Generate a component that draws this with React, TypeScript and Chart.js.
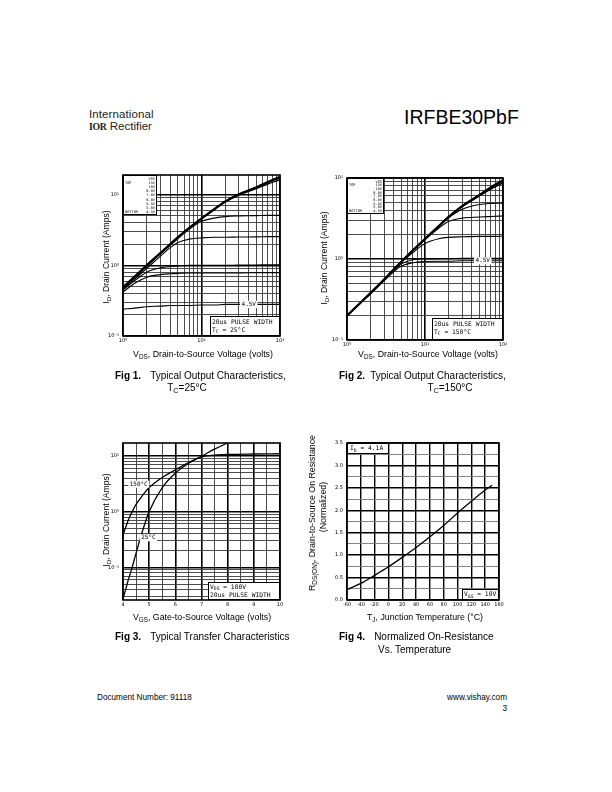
import React, { useEffect, useRef } from "react";
import { Chart, registerables } from "chart.js";
Chart.register(...registerables);

// ---------- Fig 1 : output characteristics, Tc = 25C ----------
const F1_VDS = [1, 1.5, 2, 3, 4, 5, 7, 10, 15, 20, 30, 50, 70, 100];
const F1_ID_15V = [0.49, 0.74, 1.0, 1.5, 2.0, 2.5, 3.4, 4.6, 6.4, 8.0, 10.2, 12.8, 15.2, 18.0];
const F1_ID_10V = [0.49, 0.74, 1.0, 1.5, 2.0, 2.5, 3.4, 4.6, 6.4, 8.0, 10.1, 12.6, 14.9, 17.4];
const F1_ID_8V = [0.48, 0.73, 0.99, 1.49, 1.98, 2.48, 3.37, 4.55, 6.3, 7.9, 9.9, 12.2, 14.2, 16.3];
const F1_ID_7V = [0.47, 0.71, 0.96, 1.45, 1.92, 2.38, 3.25, 4.2, 4.7, 4.9, 5.0, 5.05, 5.1, 5.1];
const F1_ID_6V = [0.46, 0.68, 0.9, 1.35, 1.78, 2.1, 2.35, 2.45, 2.5, 2.5, 2.52, 2.53, 2.55, 2.55];
const F1_ID_5V5 = [0.45, 0.64, 0.8, 0.92, 0.96, 0.98, 1.0, 1.0, 1.0, 1.0, 1.01, 1.01, 1.02, 1.02];
const F1_ID_5V = [0.42, 0.58, 0.68, 0.74, 0.76, 0.77, 0.78, 0.78, 0.78, 0.78, 0.78, 0.79, 0.79, 0.79];
const F1_ID_4V5 = [0.24, 0.25, 0.26, 0.265, 0.27, 0.27, 0.27, 0.275, 0.275, 0.28, 0.28, 0.28, 0.28, 0.28];

// ---------- Fig 2 : output characteristics, Tc = 150C ----------
const F2_VDS = [1, 1.5, 2, 3, 4, 5, 7, 10, 15, 20, 30, 50, 70, 100];
const F2_ID_15V = [0.2, 0.29, 0.38, 0.56, 0.75, 0.93, 1.28, 1.77, 2.55, 3.3, 4.5, 6.2, 7.7, 9.4];
const F2_ID_10V = [0.2, 0.29, 0.38, 0.56, 0.75, 0.93, 1.28, 1.77, 2.55, 3.3, 4.5, 6.15, 7.6, 9.2];
const F2_ID_8V = [0.2, 0.29, 0.38, 0.56, 0.75, 0.93, 1.28, 1.77, 2.54, 3.28, 4.45, 6.0, 7.3, 8.7];
const F2_ID_7V = [0.2, 0.29, 0.38, 0.56, 0.75, 0.93, 1.28, 1.76, 2.5, 3.2, 4.1, 4.7, 4.85, 4.9];
const F2_ID_6V = [0.2, 0.29, 0.38, 0.56, 0.75, 0.93, 1.27, 1.74, 2.4, 2.9, 3.2, 3.3, 3.35, 3.4];
const F2_ID_5V5 = [0.2, 0.29, 0.38, 0.56, 0.74, 0.91, 1.2, 1.55, 1.78, 1.85, 1.88, 1.9, 1.9, 1.92];
const F2_ID_5V = [0.2, 0.29, 0.38, 0.55, 0.72, 0.87, 0.98, 1.0, 1.01, 1.01, 1.02, 1.02, 1.02, 1.02];
const F2_ID_4V5 = [0.2, 0.29, 0.37, 0.54, 0.7, 0.82, 0.9, 0.93, 0.94, 0.94, 0.95, 0.95, 0.95, 0.95];

// ---------- Fig 3 : transfer characteristics ----------
const F3_VGS = [4.0, 4.1, 4.2, 4.35, 4.5, 4.65, 4.8, 5.0, 5.5, 6.0, 6.5, 7.0, 7.5, 8.0, 9.0, 10.0];
const F3_ID_25C = [0.027, 0.04, 0.059, 0.1, 0.18, 0.32, 0.54, 1.0, 2.7, 4.9, 7.3, 9.8, 13.2, 17, null, null];
const F3_ID_150C = [0.38, 0.52, 0.7, 1.0, 1.35, 1.7, 2.1, 2.7, 4.1, 5.6, 7.6, 9.6, 10.3, 10.6, 10.8, 10.9];

// ---------- Fig 4 : normalized on-resistance vs temperature ----------
const F4_TJ = [-60, -40, -20, 0, 20, 40, 60, 80, 100, 120, 140, 150];
const F4_RDS = [0.23, 0.37, 0.55, 0.74, 0.95, 1.17, 1.41, 1.66, 1.94, 2.2, 2.45, 2.56];

// ---------- tick values / labels ----------
const DECADES = [0.1, 1, 10, 100];
const DECADE_LABELS = ["10⁻¹", "10⁰", "10¹", "10²"];
const LOG_X_TICKS = [1, 2, 3, 4, 5, 6, 7, 8, 9, 10, 20, 30, 40, 50, 60, 70, 80, 90, 100];
const LOG_Y_TICKS = [0.1, 0.2, 0.3, 0.4, 0.5, 0.6, 0.7, 0.8, 0.9, 1, 2, 3, 4, 5, 6, 7, 8, 9, 10];
const F3_Y_TICKS = [0.03, 0.04, 0.05, 0.06, 0.07, 0.08, 0.09, 0.1, 0.2, 0.3, 0.4, 0.5, 0.6, 0.7, 0.8, 0.9, 1, 2, 3, 4, 5, 6, 7, 8, 9, 10];
const LEGEND_VGS = ["VGS", "15V", "10V", "8.0V", "7.0V", "6.0V", "5.5V", "5.0V", "4.5V"];

const decIndex = (v: number) => DECADES.findIndex((d) => Math.abs(v / d - 1) < 1e-6);
const TICK_FONT = { family: "'DejaVu Sans', sans-serif", size: 5 };
const MONO = "'DejaVu Sans Mono', monospace";

function logAxis(min: number, max: number, vals: number[], w: number, isX: boolean) {
  return {
    type: "logarithmic",
    min,
    max,
    afterBuildTicks: (s: any) => {
      s.ticks = vals.map((v) => ({ value: v }));
    },
    afterFit: (s: any) => {
      if (isX) s.height = w;
      else s.width = w;
    },
    ticks: {
      autoSkip: false,
      maxRotation: 0,
      minRotation: 0,
      padding: isX ? 2 : 4,
      color: "#000",
      font: TICK_FONT,
      callback: (v: any) => {
        const i = decIndex(Number(v));
        return i >= 0 ? DECADE_LABELS[i] : "";
      },
    },
    grid: {
      drawTicks: false,
      color: (c: any) => (c.tick && decIndex(c.tick.value) >= 0 ? "#000" : "#3a3a3a"),
      lineWidth: (c: any) => (c.tick && decIndex(c.tick.value) >= 0 ? 1.6 : 0.9),
    },
    border: { display: false },
  };
}

function linAxis(min: number, max: number, step: number, labelStep: number, w: number, isX: boolean, fmt: (v: number) => string, majorW: number, minorW: number, minorColor: string) {
  const isMajor = (v: number) => Math.abs(v / labelStep - Math.round(v / labelStep)) < 1e-6;
  return {
    type: "linear",
    min,
    max,
    afterFit: (s: any) => {
      if (isX) s.height = w;
      else s.width = w;
    },
    ticks: {
      stepSize: step,
      autoSkip: false,
      maxRotation: 0,
      minRotation: 0,
      padding: isX ? 2 : 4,
      color: "#000",
      font: TICK_FONT,
      callback: (v: any) => (isMajor(Number(v)) ? fmt(Number(v)) : ""),
    },
    grid: {
      drawTicks: false,
      color: (c: any) => (c.tick && isMajor(c.tick.value) ? "#000" : minorColor),
      lineWidth: (c: any) => (c.tick && isMajor(c.tick.value) ? majorW : minorW),
    },
    border: { display: false },
  };
}

function ds(xs: number[], ys: (number | null)[], width: number) {
  return {
    data: xs.map((x, i) => ({ x, y: ys[i] })),
    borderColor: "#000",
    borderWidth: width,
    pointRadius: 0,
    cubicInterpolationMode: "monotone",
    spanGaps: false,
    fill: false,
  };
}

function box(ctx: CanvasRenderingContext2D, x: number, y: number, w: number, h: number) {
  ctx.save();
  ctx.fillStyle = "#fff";
  ctx.fillRect(x, y, w, h);
  ctx.strokeStyle = "#000";
  ctx.lineWidth = 1;
  ctx.strokeRect(x + 0.5, y + 0.5, w - 1, h - 1);
  ctx.restore();
}

// draws "main" + subscript + rest in monospace
function subText(ctx: CanvasRenderingContext2D, x: number, y: number, main: string, sub: string, rest: string, size: number) {
  ctx.font = `${size}px ${MONO}`;
  ctx.fillText(main, x, y);
  let cx = x + ctx.measureText(main).width;
  ctx.font = `${size * 0.75}px ${MONO}`;
  ctx.fillText(sub, cx, y + size * 0.3);
  cx += ctx.measureText(sub).width;
  ctx.font = `${size}px ${MONO}`;
  ctx.fillText(rest, cx, y);
}

function legendBox(ctx: CanvasRenderingContext2D, ca: any, w: number, h: number) {
  box(ctx, ca.left, ca.top, w, h);
  const rowH = (h - 3) / LEGEND_VGS.length;
  ctx.fillStyle = "#000";
  ctx.font = `3.6px ${MONO}`;
  ctx.textBaseline = "middle";
  ctx.textAlign = "right";
  LEGEND_VGS.forEach((t, i) => ctx.fillText(t, ca.left + w - 2, ca.top + 2 + rowH * (i + 0.5)));
  ctx.textAlign = "left";
  ctx.fillText("TOP", ca.left + 2, ca.top + 2 + rowH * 1.5);
  ctx.fillText("BOTTOM", ca.left + 2, ca.top + 2 + rowH * 8.5);
}

function dataLabel(chart: any, xv: number, yv: number, text: string, size: number) {
  const ctx = chart.ctx as CanvasRenderingContext2D;
  const px = chart.scales.x.getPixelForValue(xv);
  const py = chart.scales.y.getPixelForValue(yv);
  ctx.save();
  ctx.font = `${size}px ${MONO}`;
  const w = ctx.measureText(text).width + 3;
  ctx.fillStyle = "#fff";
  ctx.fillRect(px - w / 2, py - size * 0.6, w, size * 1.2);
  ctx.fillStyle = "#000";
  ctx.textAlign = "center";
  ctx.textBaseline = "middle";
  ctx.fillText(text, px, py);
  ctx.restore();
}

function frame(chart: any) {
  const ctx = chart.ctx as CanvasRenderingContext2D;
  const ca = chart.chartArea;
  ctx.save();
  ctx.strokeStyle = "#000";
  ctx.lineWidth = 1.6;
  ctx.strokeRect(ca.left, ca.top, ca.right - ca.left, ca.bottom - ca.top);
  ctx.restore();
}

function pulseBox(chart: any, w: number, h: number, tempText: string) {
  const ctx = chart.ctx as CanvasRenderingContext2D;
  const ca = chart.chartArea;
  box(ctx, ca.right - w, ca.bottom - h, w, h);
  ctx.save();
  ctx.fillStyle = "#000";
  ctx.textBaseline = "middle";
  ctx.textAlign = "left";
  ctx.font = `6.3px ${MONO}`;
  ctx.fillText("20us PULSE WIDTH", ca.right - w + 2, ca.bottom - h + 6);
  subText(ctx, ca.right - w + 2, ca.bottom - h + 14, "T", "C", " = " + tempText, 6.3);
  ctx.restore();
}

function baseOptions(yW: number, xH: number, top: number, right: number, xScale: any, yScale: any) {
  return {
    responsive: false,
    maintainAspectRatio: false,
    animation: false,
    devicePixelRatio: 1,
    layout: { padding: { left: 0, top, right, bottom: 0 } },
    plugins: { legend: { display: false }, tooltip: { enabled: false }, title: { display: false } },
    scales: {
      x: { ...xScale, afterFit: (s: any) => { s.height = xH; } },
      y: { ...yScale, afterFit: (s: any) => { s.width = yW; } },
    },
  };
}

const fig1Config = () => ({
  type: "line",
  data: {
    datasets: [
      ds(F1_VDS, F1_ID_15V, 2.0),
      ds(F1_VDS, F1_ID_10V, 1.8),
      ds(F1_VDS, F1_ID_8V, 1.5),
      ds(F1_VDS, F1_ID_7V, 1.1),
      ds(F1_VDS, F1_ID_6V, 1.1),
      ds(F1_VDS, F1_ID_5V5, 1.1),
      ds(F1_VDS, F1_ID_5V, 1.1),
      ds(F1_VDS, F1_ID_4V5, 1.1),
    ],
  },
  options: baseOptions(27, 13, 8, 10, logAxis(1, 100, LOG_X_TICKS, 13, true), logAxis(0.1, 19, LOG_Y_TICKS, 27, false)),
  plugins: [
    {
      id: "notes1",
      afterDraw: (chart: any) => {
        const ctx = chart.ctx;
        frame(chart);
        legendBox(ctx, chart.chartArea, 34, 40);
        pulseBox(chart, 70, 20, "25°C");
        dataLabel(chart, 40, 0.28, "4.5V", 6);
      },
    },
  ],
});

const fig2Config = () => ({
  type: "line",
  data: {
    datasets: [
      ds(F2_VDS, F2_ID_15V, 2.0),
      ds(F2_VDS, F2_ID_10V, 1.8),
      ds(F2_VDS, F2_ID_8V, 1.5),
      ds(F2_VDS, F2_ID_7V, 1.1),
      ds(F2_VDS, F2_ID_6V, 1.1),
      ds(F2_VDS, F2_ID_5V5, 1.1),
      ds(F2_VDS, F2_ID_5V, 1.1),
      ds(F2_VDS, F2_ID_4V5, 1.1),
    ],
  },
  options: baseOptions(27, 12, 8, 10, logAxis(1, 100, LOG_X_TICKS, 12, true), logAxis(0.1, 10, LOG_Y_TICKS, 27, false)),
  plugins: [
    {
      id: "notes2",
      afterDraw: (chart: any) => {
        const ctx = chart.ctx;
        frame(chart);
        legendBox(ctx, chart.chartArea, 37, 36);
        pulseBox(chart, 71, 22, "150°C");
        dataLabel(chart, 55, 0.95, "4.5V", 6);
      },
    },
  ],
});

const fig3Config = () => ({
  type: "line",
  data: {
    datasets: [ds(F3_VGS, F3_ID_25C, 1.3), ds(F3_VGS, F3_ID_150C, 1.3)],
  },
  options: baseOptions(
    27,
    13,
    8,
    10,
    linAxis(4, 10, 0.5, 1, 13, true, (v) => String(v), 1.6, 0.9, "#3a3a3a"),
    logAxis(0.026, 17, F3_Y_TICKS, 27, false)
  ),
  plugins: [
    {
      id: "notes3",
      afterDraw: (chart: any) => {
        const ctx = chart.ctx as CanvasRenderingContext2D;
        const ca = chart.chartArea;
        frame(chart);
        dataLabel(chart, 4.6, 3.1, "150°C", 6);
        dataLabel(chart, 4.97, 0.34, "25°C", 6);
        const w = 72, h = 18;
        box(ctx, ca.right - w, ca.bottom - h, w, h);
        ctx.save();
        ctx.fillStyle = "#000";
        ctx.textBaseline = "middle";
        ctx.textAlign = "left";
        subText(ctx, ca.right - w + 2, ca.bottom - h + 5, "V", "DS", " = 100V", 6.3);
        ctx.font = `6.3px ${MONO}`;
        ctx.fillText("20us PULSE WIDTH", ca.right - w + 2, ca.bottom - h + 13);
        ctx.restore();
      },
    },
  ],
});

const fig4Config = () => ({
  type: "line",
  data: { datasets: [ds(F4_TJ, F4_RDS, 1.3)] },
  options: baseOptions(
    27,
    13,
    8,
    10,
    linAxis(-60, 160, 20, 20, 13, true, (v) => String(v), 1.4, 1.4, "#000"),
    linAxis(0, 3.5, 0.25, 0.5, 27, false, (v) => v.toFixed(1), 1.4, 0.9, "#777")
  ),
  plugins: [
    {
      id: "notes4",
      afterDraw: (chart: any) => {
        const ctx = chart.ctx as CanvasRenderingContext2D;
        const ca = chart.chartArea;
        frame(chart);
        box(ctx, ca.left, ca.top, 42, 11);
        ctx.save();
        ctx.fillStyle = "#000";
        ctx.textBaseline = "middle";
        ctx.textAlign = "left";
        subText(ctx, ca.left + 3, ca.top + 5.5, "I", "D", " = 4.1A", 6.3);
        box(ctx, ca.right - 37, ca.bottom - 11, 37, 11);
        subText(ctx, ca.right - 35, ca.bottom - 5.5, "V", "GS", " = 10V", 6.3);
        ctx.restore();
      },
    },
  ],
});

function ChartCanvas({ left, top, width, height, make }: { left: number; top: number; width: number; height: number; make: () => any }) {
  const ref = useRef<HTMLCanvasElement>(null);
  useEffect(() => {
    const chart = new Chart(ref.current as HTMLCanvasElement, make());
    return () => chart.destroy();
  }, []);
  return <canvas ref={ref} width={width} height={height} style={{ position: "absolute", left, top, width, height }} />;
}

const sub = (t: string) => (
  <span style={{ fontSize: "0.72em", position: "relative", top: "0.3em" }}>{t}</span>
);

function Txt({ x, y, size, children, align = "left", bold = false, rotate = false, style = {} }: any) {
  const tx = align === "center" ? "-50%" : align === "right" ? "-100%" : "0";
  return (
    <div
      style={{
        position: "absolute",
        left: x,
        top: y,
        fontSize: size,
        lineHeight: 1,
        whiteSpace: "nowrap",
        fontWeight: bold ? "bold" : "normal",
        transform: rotate ? "translate(-50%,-50%) rotate(-90deg)" : `translate(${tx},-50%)`,
        ...style,
      }}
    >
      {children}
    </div>
  );
}

export default function App() {
  return (
    <div
      style={{
        position: "absolute",
        left: 0,
        top: 0,
        width: 612,
        height: 792,
        background: "#fff",
        fontFamily: "'Liberation Sans', Arial, sans-serif",
        color: "#000",
        overflow: "hidden",
      }}
    >
      {/* header */}
      <Txt x={89} y={115} size={11.5} style={{ color: "#222", letterSpacing: "0.1px" }}>International</Txt>
      <Txt x={89} y={127} size={11.5} style={{ color: "#222" }}>
        <span style={{ fontFamily: "'Liberation Serif', serif", fontWeight: "bold", fontSize: "0.85em", letterSpacing: "-0.3px" }}>IOR</span>
        <span> Rectifier</span>
      </Txt>
      <Txt x={404} y={118} size={19.5}>IRFBE30PbF</Txt>

      {/* charts */}
      <ChartCanvas left={96} top={167} width={194} height={182} make={fig1Config} />
      <ChartCanvas left={320} top={170} width={193} height={182} make={fig2Config} />
      <ChartCanvas left={96} top={435} width={194} height={178} make={fig3Config} />
      <ChartCanvas left={320} top={435} width={189} height={178} make={fig4Config} />

      {/* fig 1 texts */}
      <Txt x={106} y={257} size={8.6} rotate>I{sub("D")}, Drain Current (Amps)</Txt>
      <Txt x={203} y={354} size={8.8} align="center">V{sub("DS")}, Drain-to-Source Voltage (volts)</Txt>
      <Txt x={115} y={376} size={10}>
        <b>Fig 1.</b>
        <span style={{ marginLeft: 9 }}>Typical Output Characteristics,</span>
      </Txt>
      <Txt x={187} y={388} size={10} align="center">T{sub("C")}=25°C</Txt>

      {/* fig 2 texts */}
      <Txt x={324} y={258} size={8.6} rotate>I{sub("D")}, Drain Current (Amps)</Txt>
      <Txt x={428} y={354} size={8.8} align="center">V{sub("DS")}, Drain-to-Source Voltage (volts)</Txt>
      <Txt x={339} y={376} size={10}>
        <b>Fig 2.</b>
        <span style={{ marginLeft: 5 }}>Typical Output Characteristics,</span>
      </Txt>
      <Txt x={450} y={388} size={10} align="center">T{sub("C")}=150°C</Txt>

      {/* fig 3 texts */}
      <Txt x={106} y={520} size={8.6} rotate>I{sub("D")}, Drain Current (Amps)</Txt>
      <Txt x={202} y={617} size={8.8} align="center">V{sub("GS")}, Gate-to-Source Voltage (volts)</Txt>
      <Txt x={115} y={637} size={10}>
        <b>Fig 3.</b>
        <span style={{ marginLeft: 9 }}>Typical Transfer Characteristics</span>
      </Txt>

      {/* fig 4 texts */}
      <Txt x={312} y={513} size={8.8} rotate>R{sub("DS(ON)")}, Drain-to-Source On Resistance</Txt>
      <Txt x={323} y={507} size={8.8} rotate>(Normalized)</Txt>
      <Txt x={425} y={617} size={8.8} align="center">T{sub("J")}, Junction Temperature (°C)</Txt>
      <Txt x={339} y={637} size={10}>
        <b>Fig 4.</b>
        <span style={{ marginLeft: 9 }}>Normalized On-Resistance</span>
      </Txt>
      <Txt x={378} y={650} size={10}>Vs. Temperature</Txt>

      {/* footer */}
      <Txt x={97} y={698} size={8.2}>Document Number: 91118</Txt>
      <Txt x={507} y={698} size={8.2} align="right">www.vishay.com</Txt>
      <Txt x={507} y={709} size={8.2} align="right">3</Txt>
    </div>
  );
}
